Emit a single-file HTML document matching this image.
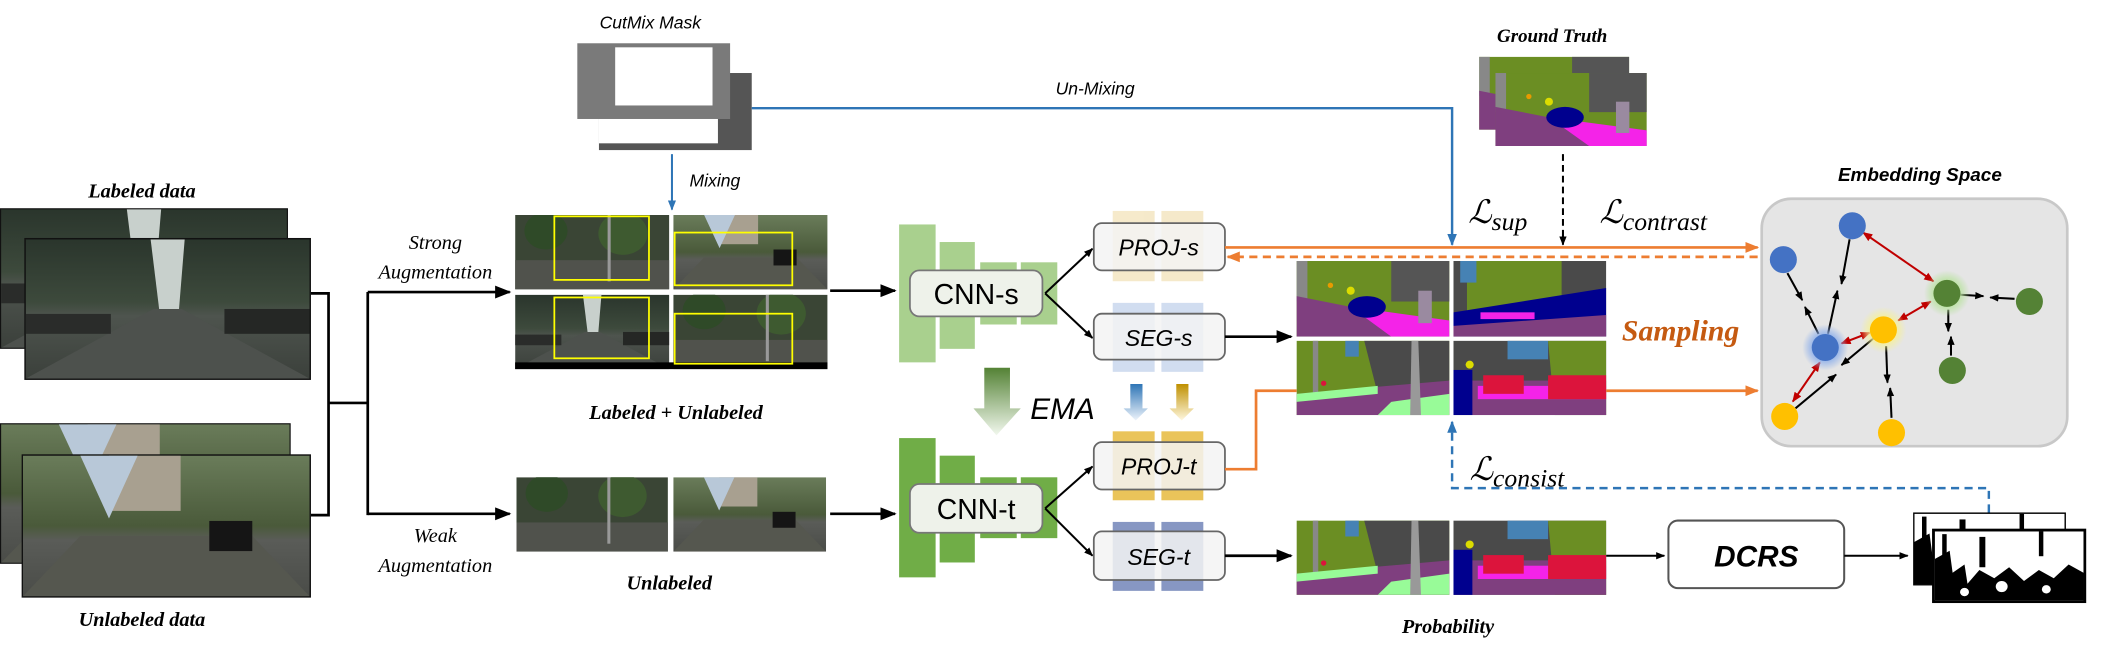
<!DOCTYPE html>
<html><head><meta charset="utf-8"><style>
html,body{margin:0;padding:0;background:#fff;}
svg{display:block;}
text{font-family:"Liberation Sans",sans-serif;}
.sr{font-family:"Liberation Serif",serif;font-style:italic;}
</style></head><body>
<svg width="2120" height="672" viewBox="0 0 1568 497" preserveAspectRatio="none" xmlns="http://www.w3.org/2000/svg">
<defs>
<marker id="ab" viewBox="0 0 10 10" refX="9" refY="5" markerWidth="6" markerHeight="6" orient="auto-start-reverse"><path d="M0,1 L10,5 L0,9 z" fill="#000"/></marker>
<marker id="ab2" viewBox="0 0 10 10" refX="9" refY="5" markerWidth="4.5" markerHeight="4.5" orient="auto-start-reverse"><path d="M0,1 L10,5 L0,9 z" fill="#000"/></marker>
<marker id="ar" viewBox="0 0 10 10" refX="9" refY="5" markerWidth="5" markerHeight="5" orient="auto-start-reverse"><path d="M0,1 L10,5 L0,9 z" fill="#c00000"/></marker>
<marker id="ao" viewBox="0 0 10 10" refX="9" refY="5" markerWidth="5" markerHeight="5" orient="auto-start-reverse"><path d="M0,1 L10,5 L0,9 z" fill="#ed7d31"/></marker>
<marker id="abl" viewBox="0 0 10 10" refX="9" refY="5" markerWidth="5" markerHeight="5" orient="auto-start-reverse"><path d="M0,1 L10,5 L0,9 z" fill="#2e75b6"/></marker>
<linearGradient id="sky" x1="0" y1="0" x2="0" y2="1"><stop offset="0" stop-color="#2a352c"/><stop offset="0.45" stop-color="#3d4a3c"/><stop offset="0.55" stop-color="#4e544e"/><stop offset="1" stop-color="#3b403b"/></linearGradient>
<linearGradient id="sky2" x1="0" y1="0" x2="0" y2="1"><stop offset="0" stop-color="#6a7c5a"/><stop offset="0.5" stop-color="#4a5a3a"/><stop offset="0.6" stop-color="#5a5c58"/><stop offset="1" stop-color="#4a4c48"/></linearGradient>
<linearGradient id="ema" x1="0" y1="0" x2="0" y2="1"><stop offset="0" stop-color="#548235"/><stop offset="1" stop-color="#f2f8ee"/></linearGradient>
<linearGradient id="bar" x1="0" y1="0" x2="0" y2="1"><stop offset="0" stop-color="#2e75b6"/><stop offset="1" stop-color="#eef4fb"/></linearGradient>
<linearGradient id="yar" x1="0" y1="0" x2="0" y2="1"><stop offset="0" stop-color="#bf9000"/><stop offset="1" stop-color="#fff8e0"/></linearGradient>
<radialGradient id="gb"><stop offset="0.5" stop-color="#8fb0ea"/><stop offset="1" stop-color="#8fb0ea" stop-opacity="0"/></radialGradient>
<radialGradient id="gy"><stop offset="0.5" stop-color="#f5f09a"/><stop offset="1" stop-color="#f5f09a" stop-opacity="0"/></radialGradient>
<radialGradient id="gg"><stop offset="0.5" stop-color="#b9e2a0"/><stop offset="1" stop-color="#b9e2a0" stop-opacity="0"/></radialGradient>

<symbol id="p1" viewBox="0 0 100 56" preserveAspectRatio="none">
<rect width="100" height="56" fill="url(#sky)"/><polygon points="44,0 56,0 54,28 47,28" fill="#c8d0cc"/>
<polygon points="0,56 45,28 55,28 100,56" fill="#4d514d"/><rect x="0" y="30" width="30" height="8" fill="#2a2c2a"/><rect x="70" y="28" width="30" height="10" fill="#252725"/></symbol>
<symbol id="p2" viewBox="0 0 100 56" preserveAspectRatio="none">
<rect width="100" height="56" fill="url(#sky2)"/><rect x="30" y="0" width="25" height="22" fill="#a8a090"/><polygon points="0,56 20,32 80,32 100,56" fill="#55574f"/><rect x="65" y="26" width="15" height="12" fill="#151515"/><polygon points="20,0 40,0 30,25" fill="#b8c8d8"/></symbol>
<symbol id="p3" viewBox="0 0 100 56" preserveAspectRatio="none">
<rect width="100" height="56" fill="#3a4535"/><rect x="0" y="34" width="100" height="22" fill="#50524c"/><circle cx="20" cy="12" r="14" fill="#2f4a28"/><circle cx="70" cy="14" r="16" fill="#3e5a30"/><rect x="60" y="0" width="2" height="50" fill="#999"/></symbol>

<symbol id="sA" viewBox="0 0 113 56" preserveAspectRatio="none">
<rect width="113" height="56" fill="#6b8e23"/><rect x="70" y="0" width="43" height="30" fill="#555"/><rect x="0" y="0" width="8" height="30" fill="#888"/>
<polygon points="0,26 40,34 113,56 0,56" fill="#7f3f7f"/><polygon points="40,34 113,44 113,56 70,56" fill="#f423e8"/>
<ellipse cx="52" cy="34" rx="14" ry="8" fill="#00008e"/><rect x="90" y="22" width="10" height="24" fill="#9a8aa0"/><circle cx="40" cy="22" r="3" fill="#dcdc00"/><circle cx="25" cy="18" r="2" fill="#e89a00"/></symbol>
<symbol id="sB" viewBox="0 0 113 56" preserveAspectRatio="none">
<rect width="113" height="56" fill="#4a4a4a"/><polygon points="10,0 80,0 80,30 10,40" fill="#6b8e23"/><rect x="5" y="0" width="12" height="16" fill="#4682b4"/>
<polygon points="0,38 113,20 113,56 0,56" fill="#00008e"/><polygon points="0,48 113,40 113,56 0,56" fill="#7f3f7f"/><rect x="20" y="38" width="40" height="5" fill="#f423e8"/></symbol>
<symbol id="sC" viewBox="0 0 113 56" preserveAspectRatio="none">
<rect width="113" height="56" fill="#6b8e23"/><polygon points="50,0 113,0 113,30 60,40" fill="#4a4a4a"/><rect x="12" y="0" width="4" height="40" fill="#888"/>
<polygon points="0,40 113,30 113,56 0,56" fill="#7f3f7f"/><polygon points="0,40 60,34 60,40 0,46" fill="#98fb98"/><polygon points="70,46 113,40 113,56 60,56" fill="#98fb98"/>
<polygon points="85,0 90,0 92,56 84,56" fill="#999"/><rect x="36" y="0" width="10" height="12" fill="#4682b4"/><circle cx="20" cy="32" r="2" fill="#dc143c"/></symbol>
<symbol id="sD" viewBox="0 0 113 56" preserveAspectRatio="none">
<rect width="113" height="56" fill="#4a4a4a"/><rect x="40" y="0" width="30" height="14" fill="#4682b4"/><polygon points="70,0 113,0 113,56 75,56" fill="#6b8e23"/>
<rect x="0" y="30" width="113" height="26" fill="#7f3f7f"/><rect x="0" y="22" width="14" height="34" fill="#00008e"/>
<rect x="18" y="34" width="95" height="10" fill="#f423e8"/><rect x="22" y="26" width="30" height="14" fill="#dc143c"/><rect x="70" y="26" width="43" height="18" fill="#dc143c"/><circle cx="12" cy="18" r="3" fill="#dcdc00"/></symbol>
<symbol id="mk" viewBox="0 0 100 50" preserveAspectRatio="none">
<rect width="100" height="50" fill="#fff"/><polygon points="0,20 10,14 12,30 20,24 22,38 30,28 40,34 50,26 60,36 70,28 80,34 90,24 100,30 100,50 0,50" fill="#000"/>
<rect x="5" y="2" width="3" height="20" fill="#000"/><rect x="30" y="4" width="4" height="22" fill="#000"/><rect x="70" y="0" width="3" height="18" fill="#000"/><circle cx="45" cy="40" r="4" fill="#fff"/><circle cx="75" cy="42" r="3" fill="#fff"/><circle cx="20" cy="44" r="3" fill="#fff"/></symbol>
</defs>

<!-- Input data -->
<text x="105" y="146" text-anchor="middle" class="sr" font-weight="bold" font-size="15">Labeled data</text>
<rect x="0" y="154" width="213" height="104" fill="#111"/><use href="#p1" x="0.8" y="154.8" width="211.4" height="102.4"/>
<rect x="18" y="176" width="212" height="105" fill="#111"/><use href="#p1" x="19" y="177" width="210" height="103"/>
<rect x="0" y="313" width="215" height="104" fill="#111"/><use href="#p2" x="0.8" y="313.8" width="213.4" height="102.4"/>
<rect x="16" y="336" width="214" height="106" fill="#111"/><use href="#p2" x="17" y="337" width="212" height="104"/>
<text x="105" y="463" text-anchor="middle" class="sr" font-weight="bold" font-size="15">Unlabeled data</text>

<g stroke="#000" stroke-width="2" fill="none">
<polyline points="230,217 243,217 243,381 230,381"/><line x1="243" y1="298" x2="272" y2="298"/>
<line x1="272" y1="216" x2="272" y2="381"/>
<line x1="272" y1="216" x2="377" y2="216" marker-end="url(#ab)"/>
<line x1="272" y1="380" x2="377" y2="380" marker-end="url(#ab)"/>
</g>
<text x="322" y="184" text-anchor="middle" class="sr" font-size="15">Strong</text>
<text x="322" y="206" text-anchor="middle" class="sr" font-size="15">Augmentation</text>
<text x="322" y="401" text-anchor="middle" class="sr" font-size="15">Weak</text>
<text x="322" y="423" text-anchor="middle" class="sr" font-size="15">Augmentation</text>

<!-- CutMix -->
<text x="481" y="21" text-anchor="middle" font-style="italic" font-size="13">CutMix Mask</text>
<rect x="443" y="54" width="113" height="57" fill="#555"/><rect x="443" y="60" width="88" height="46" fill="#fff"/>
<rect x="427" y="32" width="113" height="56" fill="#7a7a7a"/><rect x="455" y="35" width="72" height="43" fill="#fff"/>
<line x1="497" y1="114" x2="497" y2="155" stroke="#2e75b6" stroke-width="1.5" marker-end="url(#abl)"/>
<text x="510" y="138" font-style="italic" font-size="13">Mixing</text>
<polyline points="556,80 1074,80 1074,181" fill="none" stroke="#2e75b6" stroke-width="1.8" marker-end="url(#abl)"/>
<text x="810" y="70" text-anchor="middle" font-style="italic" font-size="13">Un-Mixing</text>

<!-- strong images -->
<use href="#p3" x="381" y="159" width="114" height="55"/><use href="#p2" x="498" y="159" width="114" height="55"/>
<use href="#p1" x="381" y="218" width="114" height="55"/><use href="#p3" x="498" y="218" width="114" height="55"/>
<rect x="381" y="268" width="231" height="5" fill="#000"/>
<g fill="none" stroke="#ffff00" stroke-width="1.3">
<rect x="410" y="160" width="70" height="47"/><rect x="499" y="172" width="87" height="39"/>
<rect x="410" y="220" width="70" height="45"/><rect x="499" y="232" width="87" height="37"/></g>
<text x="500" y="310" text-anchor="middle" class="sr" font-weight="bold" font-size="15">Labeled + Unlabeled</text>
<use href="#p3" x="382" y="353" width="112" height="55"/><use href="#p2" x="498" y="353" width="113" height="55"/>
<text x="495" y="436" text-anchor="middle" class="sr" font-weight="bold" font-size="15">Unlabeled</text>

<line x1="614" y1="215" x2="662" y2="215" stroke="#000" stroke-width="2" marker-end="url(#ab)"/>
<line x1="614" y1="380" x2="662" y2="380" stroke="#000" stroke-width="2" marker-end="url(#ab)"/>

<!-- CNN-s -->
<g fill="#a9d08e"><rect x="665" y="166" width="27" height="102"/><rect x="695" y="179" width="26" height="79"/><rect x="725" y="194" width="27" height="46"/><rect x="755" y="194" width="27" height="46"/></g>
<rect x="673" y="200" width="98" height="34" rx="7" fill="#eef2ea" stroke="#777" stroke-width="1.3"/>
<text x="722" y="225" text-anchor="middle" font-size="21">CNN-s</text>
<g fill="#70ad47"><rect x="665" y="324" width="27" height="103"/><rect x="695" y="337" width="26" height="79"/><rect x="725" y="353" width="27" height="45"/><rect x="755" y="353" width="27" height="45"/></g>
<rect x="673" y="358" width="98" height="36" rx="7" fill="#eef2ea" stroke="#777" stroke-width="1.3"/>
<text x="722" y="384" text-anchor="middle" font-size="21">CNN-t</text>
<polygon points="728,272 747,272 747,302 755,302 737,322 720,302 728,302" fill="url(#ema)"/>
<text x="762" y="310" font-style="italic" font-size="22">EMA</text>

<!-- branch lines -->
<g stroke="#000" stroke-width="1.5" fill="none">
<line x1="773" y1="217" x2="808" y2="184" marker-end="url(#ab2)"/><line x1="773" y1="217" x2="808" y2="250" marker-end="url(#ab2)"/>
<line x1="773" y1="376" x2="808" y2="345" marker-end="url(#ab2)"/><line x1="773" y1="376" x2="808" y2="411" marker-end="url(#ab2)"/>
</g>
<!-- proj/seg bars -->
<g opacity="0.6"><rect x="823" y="156" width="31" height="52" fill="#f0dca8"/><rect x="859" y="156" width="31" height="52" fill="#f0dca8"/>
<rect x="823" y="224" width="31" height="51" fill="#b4c7e7"/><rect x="859" y="224" width="31" height="51" fill="#b4c7e7"/></g>
<rect x="823" y="319" width="31" height="51" fill="#eac45a"/><rect x="859" y="319" width="31" height="51" fill="#eac45a"/>
<rect x="823" y="386" width="31" height="51" fill="#8797c3"/><rect x="859" y="386" width="31" height="51" fill="#8797c3"/>
<g fill="#f3f3f3" fill-opacity="0.85" stroke="#666" stroke-width="1.3">
<rect x="809" y="165" width="97" height="35" rx="6"/><rect x="809" y="232" width="97" height="34" rx="6"/>
<rect x="809" y="327" width="97" height="35" rx="6"/><rect x="809" y="393" width="97" height="36" rx="6"/></g>
<g font-style="italic" font-size="17" text-anchor="middle">
<text x="857" y="189">PROJ-s</text><text x="857" y="256">SEG-s</text><text x="857" y="351">PROJ-t</text><text x="857" y="418">SEG-t</text></g>
<polygon points="836,284 845,284 845,302 849,302 840,311 831,302 836,302" fill="url(#bar)"/>
<polygon points="870,284 879,284 879,302 883,302 874,311 865,302 870,302" fill="url(#yar)"/>

<!-- seg images -->
<use href="#sA" x="959" y="193" width="113" height="56"/><use href="#sB" x="1075" y="193" width="113" height="56"/>
<use href="#sC" x="959" y="252" width="113" height="55"/><use href="#sD" x="1075" y="252" width="113" height="55"/>
<use href="#sC" x="959" y="385" width="113" height="55"/><use href="#sD" x="1075" y="385" width="113" height="55"/>
<text x="1071" y="468" text-anchor="middle" class="sr" font-weight="bold" font-size="15">Probability</text>

<line x1="906" y1="249" x2="955" y2="249" stroke="#000" stroke-width="2" marker-end="url(#ab)"/>
<line x1="906" y1="411" x2="955" y2="411" stroke="#000" stroke-width="2" marker-end="url(#ab)"/>

<!-- orange -->
<line x1="906" y1="183" x2="1300" y2="183" stroke="#ed7d31" stroke-width="2" marker-end="url(#ao)"/>
<line x1="1300" y1="190" x2="908" y2="190" stroke="#ed7d31" stroke-width="2" stroke-dasharray="6,4" marker-end="url(#ao)"/>
<polyline points="906,347 929,347 929,289 959,289" fill="none" stroke="#ed7d31" stroke-width="2"/>
<line x1="1188" y1="289" x2="1300" y2="289" stroke="#ed7d31" stroke-width="2" marker-end="url(#ao)"/>
<text x="1243" y="252" text-anchor="middle" class="sr" font-weight="bold" font-size="22" fill="#c55a11">Sampling</text>

<!-- ground truth -->
<text x="1148" y="31" text-anchor="middle" class="sr" font-weight="bold" font-size="14">Ground Truth</text>
<use href="#sA" x="1094" y="42" width="111" height="54"/>
<use href="#sA" x="1106" y="54" width="112" height="54"/>
<line x1="1156" y1="114" x2="1156" y2="181" stroke="#000" stroke-width="1.5" stroke-dasharray="5,3" marker-end="url(#ab2)"/>
<text x="1086" y="165" class="sr" font-size="24">ℒ<tspan font-size="19" dy="5">sup</tspan></text>
<text x="1183" y="165" class="sr" font-size="24">ℒ<tspan font-size="19" dy="5">contrast</tspan></text>
<text x="1087" y="355" class="sr" font-size="24">ℒ<tspan font-size="19" dy="5">consist</tspan></text>

<!-- blue dashed -->
<polyline points="1471,379 1471,361 1074,361 1074,312" fill="none" stroke="#2e75b6" stroke-width="1.8" stroke-dasharray="6,4" marker-end="url(#abl)"/>

<!-- DCRS -->
<line x1="1188" y1="411" x2="1231" y2="411" stroke="#000" stroke-width="1.5" marker-end="url(#ab2)"/>
<rect x="1234" y="385" width="130" height="50" rx="7" fill="#fff" stroke="#555" stroke-width="1.5"/>
<text x="1299" y="419" text-anchor="middle" font-weight="bold" font-style="italic" font-size="22">DCRS</text>
<line x1="1364" y1="411" x2="1411" y2="411" stroke="#000" stroke-width="1.5" marker-end="url(#ab2)"/>
<rect x="1415" y="379" width="113" height="54" fill="#000"/><use href="#mk" x="1416" y="380" width="111" height="52"/>
<rect x="1429" y="391" width="114" height="55" fill="#000"/><use href="#mk" x="1431" y="393" width="110" height="51"/>

<!-- embedding -->
<text x="1420" y="134" text-anchor="middle" font-weight="bold" font-style="italic" font-size="14">Embedding Space</text>
<rect x="1303" y="147" width="226" height="183" rx="22" fill="#e5e5e5" stroke="#c8c8c8" stroke-width="2"/>
<g stroke="#000" stroke-width="1.5" fill="none">
<line x1="1368" y1="177" x2="1362" y2="210" marker-end="url(#ab2)"/><line x1="1352" y1="247" x2="1359" y2="215" marker-end="url(#ab2)"/>
<line x1="1322" y1="202" x2="1333" y2="222" marker-end="url(#ab2)"/><line x1="1345" y1="247" x2="1335" y2="227" marker-end="url(#ab2)"/>
<line x1="1386" y1="250" x2="1362" y2="270" marker-end="url(#ab2)"/><line x1="1328" y1="302" x2="1358" y2="277" marker-end="url(#ab2)"/>
<line x1="1395" y1="256" x2="1396" y2="283" marker-end="url(#ab2)"/><line x1="1399" y1="309" x2="1398" y2="287" marker-end="url(#ab2)"/>
<line x1="1450" y1="218" x2="1467" y2="219" marker-end="url(#ab2)"/><line x1="1490" y1="221" x2="1472" y2="220" marker-end="url(#ab2)"/>
<line x1="1441" y1="229" x2="1441" y2="245" marker-end="url(#ab2)"/><line x1="1443" y1="263" x2="1443" y2="249" marker-end="url(#ab2)"/>
</g>
<g stroke="#c00000" stroke-width="1.5">
<line x1="1378" y1="172" x2="1430" y2="208" marker-start="url(#ar)" marker-end="url(#ar)"/>
<line x1="1404" y1="237" x2="1428" y2="223" marker-start="url(#ar)" marker-end="url(#ar)"/>
<line x1="1362" y1="254" x2="1383" y2="246" marker-start="url(#ar)" marker-end="url(#ar)"/>
<line x1="1346" y1="268" x2="1326" y2="297" marker-start="url(#ar)" marker-end="url(#ar)"/>
</g>
<circle cx="1350" cy="257" r="17" fill="url(#gb)"/><circle cx="1393" cy="244" r="17" fill="url(#gy)"/><circle cx="1440" cy="217" r="17" fill="url(#gg)"/>
<g fill="#4472c4"><circle cx="1370" cy="167" r="10"/><circle cx="1319" cy="192" r="10"/><circle cx="1350" cy="257" r="10"/></g>
<g fill="#ffc000"><circle cx="1393" cy="244" r="10"/><circle cx="1320" cy="308" r="10"/><circle cx="1399" cy="320" r="10"/></g>
<g fill="#548235"><circle cx="1440" cy="217" r="10"/><circle cx="1501" cy="223" r="10"/><circle cx="1444" cy="274" r="10"/></g>
</svg>
</body></html>
